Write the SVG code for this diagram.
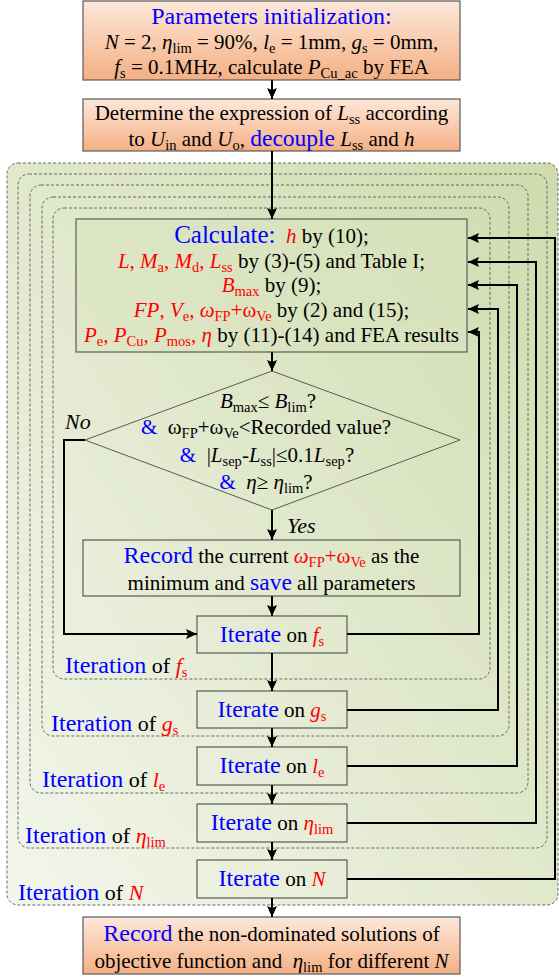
<svg xmlns="http://www.w3.org/2000/svg" width="559" height="978" viewBox="0 0 559 978" font-family="'Liberation Serif', 'Times New Roman', 'DejaVu Serif', serif">
<defs>
<linearGradient id="gOr" x1="0" y1="0" x2="0" y2="1">
<stop offset="0" stop-color="#fde8da"/>
<stop offset="1" stop-color="#f4b084"/>
</linearGradient>
<linearGradient id="gGr" x1="1" y1="0" x2="0" y2="1">
<stop offset="0" stop-color="#cfdbad"/>
<stop offset="1" stop-color="#f3f6ec"/>
</linearGradient>
<marker id="ah" markerUnits="userSpaceOnUse" markerWidth="12" markerHeight="10" refX="11" refY="5" orient="auto">
<path d="M0,0 L11,5 L0,10 L2,5 z" fill="#000"/>
</marker>
<style>
text{font-family:'Liberation Serif','Times New Roman','DejaVu Serif',serif}
.t{font-size:21px;fill:#000}
.b{fill:#0000ff}
.r{fill:#ff0000}
.i{font-style:italic}
.s{font-size:14.5px}
.big{font-size:23.5px}
.lab{font-size:22px}
.lab .b{font-size:24px}
.box{stroke:#5a5a5a;stroke-width:1.2}
.dash{fill:none;stroke:#5a5a5a;stroke-width:0.9;stroke-dasharray:3,2}
.ln{fill:none;stroke:#000;stroke-width:2}
</style>
</defs>

<g id="region-N">
<rect x="7" y="163" width="551" height="742" rx="11" fill="url(#gGr)" stroke="#5a5a5a" stroke-width="0.9" stroke-dasharray="3,2"/>
<text class="t lab" x="18" y="900"><tspan class="b">Iteration</tspan> of <tspan class="r i">N</tspan></text>
</g>
<g id="region-eta">
<rect class="dash" x="18" y="174" width="529" height="674" rx="11"/>
<text class="t lab" x="25" y="843"><tspan class="b">Iteration</tspan> of <tspan class="r i">η</tspan><tspan class="r s" dy="4">lim</tspan></text>
</g>
<g id="region-le">
<rect class="dash" x="30" y="185" width="498" height="608" rx="11"/>
<text class="t lab" x="42" y="787"><tspan class="b">Iteration</tspan> of <tspan class="r i">l</tspan><tspan class="r s" dy="4">e</tspan></text>
</g>
<g id="region-gs">
<rect class="dash" x="42" y="197" width="467" height="539" rx="11"/>
<text class="t lab" x="51" y="731"><tspan class="b">Iteration</tspan> of <tspan class="r i">g</tspan><tspan class="r s" dy="4">s</tspan></text>
</g>
<g id="region-fs">
<rect class="dash" x="53" y="208" width="437" height="471" rx="11"/>
<text class="t lab" x="65" y="673"><tspan class="b">Iteration</tspan> of <tspan class="r i">f</tspan><tspan class="r s" dy="4">s</tspan></text>
</g>

<g id="init">
<rect class="box" x="83" y="1" width="377" height="79" fill="url(#gOr)"/>
<text class="t" x="271.5" y="24" text-anchor="middle" style="font-size:24px"><tspan class="b">Parameters initialization:</tspan></text>
<text class="t" x="271.5" y="49" text-anchor="middle"><tspan class="i">N</tspan> = 2, <tspan class="i">η</tspan><tspan class="s" dy="4">lim</tspan><tspan dy="-4"> = 90%, </tspan><tspan class="i">l</tspan><tspan class="s" dy="4">e</tspan><tspan dy="-4"> = 1mm, </tspan><tspan class="i">g</tspan><tspan class="s" dy="4">s</tspan><tspan dy="-4"> = 0mm,</tspan></text>
<text class="t" x="271.5" y="74" text-anchor="middle"><tspan class="i">f</tspan><tspan class="s" dy="4">s</tspan><tspan dy="-4"> = 0.1MHz, calculate </tspan><tspan class="i">P</tspan><tspan class="s" dy="4">Cu_ac</tspan><tspan dy="-4"> by FEA</tspan></text>
</g>

<g id="decouple">
<rect class="box" x="83" y="99" width="377" height="52" fill="url(#gOr)"/>
<text class="t" x="271.5" y="120" text-anchor="middle">Determine the expression of <tspan class="i">L</tspan><tspan class="s" dy="4">ss</tspan><tspan dy="-4"> according</tspan></text>
<text class="t" x="271.5" y="146" text-anchor="middle">to <tspan class="i">U</tspan><tspan class="s" dy="4">in</tspan><tspan dy="-4"> and </tspan><tspan class="i">U</tspan><tspan class="s" dy="4">o</tspan><tspan dy="-4">, </tspan><tspan class="b big">decouple</tspan> <tspan class="i">L</tspan><tspan class="s" dy="4">ss</tspan><tspan dy="-4"> and </tspan><tspan class="i">h</tspan></text>
</g>

<g id="calculate">
<rect class="box" x="76" y="219" width="391" height="133" fill="#d9e3bd" fill-opacity="0.5"/>
<text class="t" x="271.5" y="243" text-anchor="middle" xml:space="preserve"><tspan class="b" style="font-size:25px">Calculate:</tspan>  <tspan class="r i">h</tspan> by (10);</text>
<text class="t" x="271.5" y="268" text-anchor="middle"><tspan class="r i">L</tspan><tspan class="r">, </tspan><tspan class="r i">M</tspan><tspan class="r s" dy="4">a</tspan><tspan class="r" dy="-4">, </tspan><tspan class="r i">M</tspan><tspan class="r s" dy="4">d</tspan><tspan class="r" dy="-4">, </tspan><tspan class="r i">L</tspan><tspan class="r s" dy="4">ss</tspan><tspan dy="-4"> by (3)-(5) and Table I;</tspan></text>
<text class="t" x="271.5" y="292" text-anchor="middle"><tspan class="r i">B</tspan><tspan class="r s" dy="4">max</tspan><tspan dy="-4"> by (9);</tspan></text>
<text class="t" x="271.5" y="317" text-anchor="middle"><tspan class="r i">FP</tspan><tspan class="r">, </tspan><tspan class="r i">V</tspan><tspan class="r s" dy="4">e</tspan><tspan class="r" dy="-4">, </tspan><tspan class="r i">ω</tspan><tspan class="r s" dy="4">FP</tspan><tspan class="r" dy="-4">+ω</tspan><tspan class="r s" dy="4">Ve</tspan><tspan dy="-4"> by (2) and (15);</tspan></text>
<text class="t" x="271.5" y="342" text-anchor="middle"><tspan class="r i">P</tspan><tspan class="r s" dy="4">e</tspan><tspan class="r" dy="-4">, </tspan><tspan class="r i">P</tspan><tspan class="r s" dy="4">Cu</tspan><tspan class="r" dy="-4">, </tspan><tspan class="r i">P</tspan><tspan class="r s" dy="4">mos</tspan><tspan class="r" dy="-4">, </tspan><tspan class="r i">η</tspan><tspan> by (11)-(14) and FEA results</tspan></text>
</g>

<g id="check">
<polygon points="272,371 460,440 272,510 85,440" fill="none" stroke="#5a5a5a" stroke-width="1"/>
<text class="t" x="268" y="408" text-anchor="middle"><tspan class="i">B</tspan><tspan class="s" dy="4">max</tspan><tspan dy="-4">≤ </tspan><tspan class="i">B</tspan><tspan class="s" dy="4">lim</tspan><tspan dy="-4">?</tspan></text>
<text class="t" x="266" y="434" text-anchor="middle" xml:space="preserve"><tspan class="b">&amp;</tspan>  ω<tspan class="s" dy="4">FP</tspan><tspan dy="-4">+ω</tspan><tspan class="s" dy="4">Ve</tspan><tspan dy="-4">&lt;Recorded value?</tspan></text>
<text class="t" x="267" y="462" text-anchor="middle" xml:space="preserve"><tspan class="b">&amp;</tspan>  |<tspan class="i">L</tspan><tspan class="s" dy="4">sep</tspan><tspan dy="-4">-</tspan><tspan class="i">L</tspan><tspan class="s" dy="4">ss</tspan><tspan dy="-4">|≤0.1</tspan><tspan class="i">L</tspan><tspan class="s" dy="4">sep</tspan><tspan dy="-4">?</tspan></text>
<text class="t" x="266" y="489" text-anchor="middle" xml:space="preserve"><tspan class="b">&amp;</tspan>  <tspan class="i">η</tspan>≥ <tspan class="i">η</tspan><tspan class="s" dy="4">lim</tspan><tspan dy="-4">?</tspan></text>
<text class="t i" x="65" y="429" style="font-size:22px">No</text>
<text class="t i" x="287" y="533" style="font-size:22px">Yes</text>
</g>

<g id="record">
<rect class="box" x="83" y="540" width="377" height="56" fill="none"/>
<text class="t" x="271.5" y="563" text-anchor="middle"><tspan class="b" style="font-size:24px">Record</tspan> the current <tspan class="r i">ω</tspan><tspan class="r s" dy="4">FP</tspan><tspan class="r" dy="-4">+ω</tspan><tspan class="r s" dy="4">Ve</tspan><tspan dy="-4"> as the</tspan></text>
<text class="t" x="271.5" y="590" text-anchor="middle">minimum and <tspan class="b big">save</tspan> all parameters</text>
</g>

<g id="iter-fs">
<rect class="box" x="197" y="616" width="150" height="37" fill="none"/>
<text class="t" x="272" y="642" text-anchor="middle"><tspan class="b" style="font-size:24px">Iterate</tspan> on <tspan class="r i">f</tspan><tspan class="r s" dy="4">s</tspan></text>
</g>
<g id="iter-gs">
<rect class="box" x="197" y="691" width="150" height="37" fill="none"/>
<text class="t" x="272" y="717" text-anchor="middle"><tspan class="b" style="font-size:24px">Iterate</tspan> on <tspan class="r i">g</tspan><tspan class="r s" dy="4">s</tspan></text>
</g>
<g id="iter-le">
<rect class="box" x="197" y="747" width="150" height="38" fill="none"/>
<text class="t" x="272" y="773" text-anchor="middle"><tspan class="b" style="font-size:24px">Iterate</tspan> on <tspan class="r i">l</tspan><tspan class="r s" dy="4">e</tspan></text>
</g>
<g id="iter-eta">
<rect class="box" x="197" y="804" width="150" height="38" fill="none"/>
<text class="t" x="272" y="830" text-anchor="middle"><tspan class="b" style="font-size:24px">Iterate</tspan> on <tspan class="r i">η</tspan><tspan class="r s" dy="4">lim</tspan></text>
</g>
<g id="iter-N">
<rect class="box" x="197" y="860" width="150" height="38" fill="none"/>
<text class="t" x="272" y="886" text-anchor="middle"><tspan class="b" style="font-size:24px">Iterate</tspan> on <tspan class="r i">N</tspan></text>
</g>

<g id="result">
<rect class="box" x="83" y="917" width="377" height="57" fill="url(#gOr)"/>
<text class="t" x="271.5" y="941" text-anchor="middle"><tspan class="b" style="font-size:24px">Record</tspan> the non-dominated solutions of</text>
<text class="t" x="271.5" y="968" text-anchor="middle" xml:space="preserve">objective function and  <tspan class="i">η</tspan><tspan class="s" dy="4">lim</tspan><tspan dy="-4"> for different </tspan><tspan class="i">N</tspan></text>
</g>

<g id="connectors">
<line class="ln" x1="272" y1="80" x2="272" y2="99" marker-end="url(#ah)"/>
<line class="ln" x1="272" y1="151" x2="272" y2="219" marker-end="url(#ah)"/>
<line class="ln" x1="272" y1="352" x2="272" y2="371" marker-end="url(#ah)"/>
<line class="ln" x1="272" y1="510" x2="272" y2="540" marker-end="url(#ah)"/>
<line class="ln" x1="272" y1="596" x2="272" y2="616" marker-end="url(#ah)"/>
<polyline class="ln" points="85,440 64,440 64,634 197,634" marker-end="url(#ah)"/>
<line class="ln" x1="272" y1="653" x2="272" y2="691" marker-end="url(#ah)"/>
<line class="ln" x1="272" y1="728" x2="272" y2="747" marker-end="url(#ah)"/>
<line class="ln" x1="272" y1="785" x2="272" y2="804" marker-end="url(#ah)"/>
<line class="ln" x1="272" y1="842" x2="272" y2="860" marker-end="url(#ah)"/>
<line class="ln" x1="272" y1="898" x2="272" y2="917" marker-end="url(#ah)"/>
<polyline class="ln" points="347,634 479,634 479,332 468,332" marker-end="url(#ah)"/>
<polyline class="ln" points="347,710 498,710 498,309 468,309" marker-end="url(#ah)"/>
<polyline class="ln" points="347,766 517,766 517,285 468,285" marker-end="url(#ah)"/>
<polyline class="ln" points="347,823 536,823 536,262 468,262" marker-end="url(#ah)"/>
<polyline class="ln" points="347,879 555,879 555,238 468,238" marker-end="url(#ah)"/>
</g>
</svg>
